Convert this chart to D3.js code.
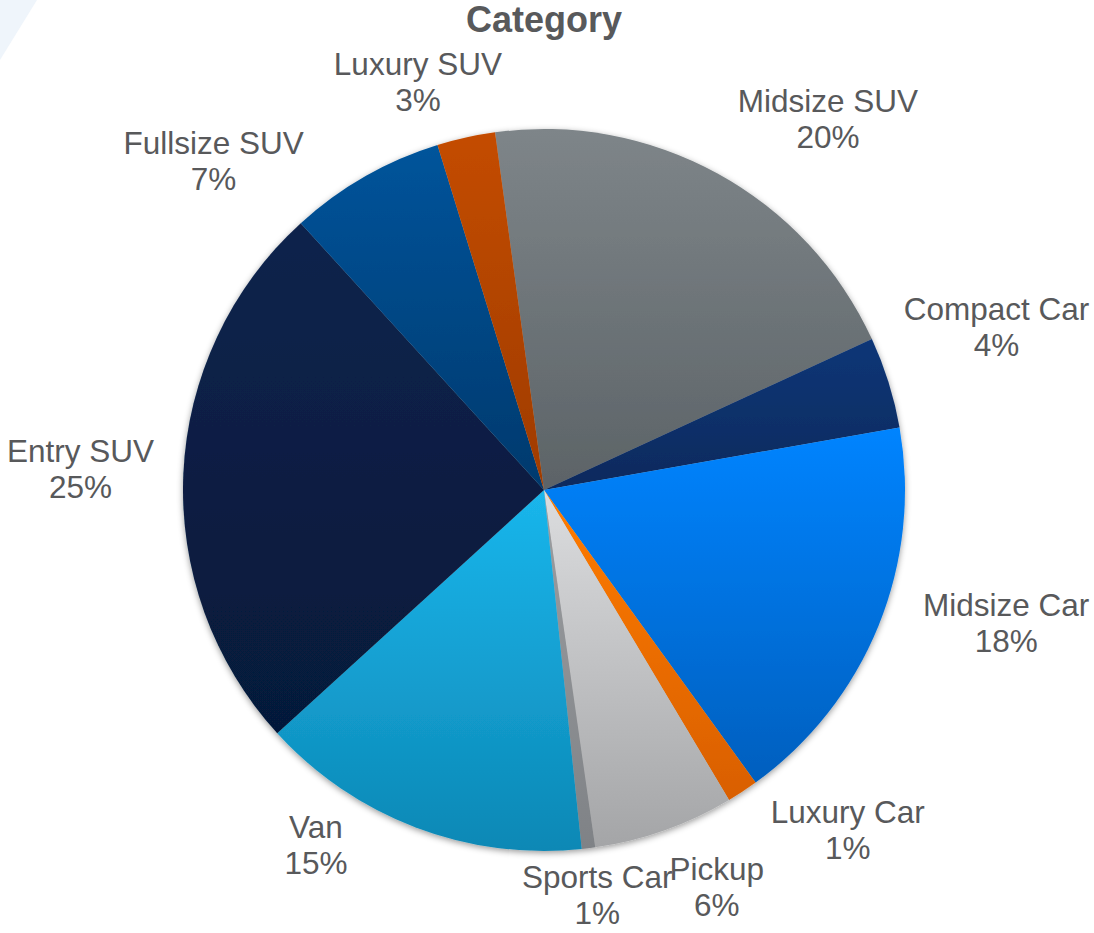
<!DOCTYPE html>
<html>
<head>
<meta charset="utf-8">
<script src="https://cdn.jsdelivr.net/npm/d3@7"></script>
<style>
  html, body { margin: 0; padding: 0; background: #ffffff; }
  svg { display: block; }
  text { font-family: "Liberation Sans", Arial, sans-serif; fill: #58595b; }
</style>
</head>
<body>
<svg id="chart" width="1094" height="933"></svg>
<script>
// Vehicle category mix (share of total, %)
const categories = ["Midsize SUV", "Compact Car", "Midsize Car", "Luxury Car", "Pickup",
                    "Sports Car", "Van", "Entry SUV", "Fullsize SUV", "Luxury SUV"];
const shares = [20.3, 4.1, 17.8, 1.4, 6.3, 0.6, 14.9, 25.0, 7.0, 2.6];

// Slice fills: top and bottom stops of each vertical gradient
const colorTop    = ["#7e8589", "#0e3677", "#0084ff", "#ff7c00", "#dcdddf",
                     "#9c9ea1", "#1ab6ec", "#0a234c", "#04549b", "#c44c00"];
const colorBottom = ["#5c6367", "#0a2a5d", "#005fbe", "#d95f00", "#a4a5a7",
                     "#7f8286", "#0d88b5", "#06193a", "#00396d", "#9e3b00"];

// Label placement relative to each slice: angle shift (deg) and gap beyond the rim (px)
const labelShift = [8.7, -2.5, -6.0, -8.4, -4.0, -0.4, 11.9, -0.1, -15.4, -4.7];
const labelGap   = [106, 120, 120, 95, 72, 47.5, 61, 103, 105, 66];

const W = 1094, H = 933;
const cx = 544, cy = 490, R = 361;
const deg = Math.PI / 180;
const startDeg = -7.8;

const svg = d3.select("#chart");
const defs = svg.append("defs");

// faint decorative corner shape
svg.append("path")
  .attr("d", d3.line()([[0, 0], [37, 0], [0, 60]]) + "Z")
  .attr("fill", "#eff5fb");

// soft shadow under the pie
const shadow = defs.append("filter").attr("id", "pieShadow")
  .attr("x", "-10%").attr("y", "-10%").attr("width", "120%").attr("height", "120%");
shadow.append("feDropShadow")
  .attr("dx", 0).attr("dy", 2).attr("stdDeviation", 3)
  .attr("flood-color", "#000").attr("flood-opacity", 0.4);

categories.forEach((c, i) => {
  const g = defs.append("linearGradient").attr("id", "grad" + i)
    .attr("x1", 0).attr("y1", 0).attr("x2", 0).attr("y2", 1);
  g.append("stop").attr("offset", "0%").attr("stop-color", colorTop[i]);
  g.append("stop").attr("offset", "100%").attr("stop-color", colorBottom[i]);
});

const data = categories.map((c, i) => ({ name: c, value: shares[i], i }));
const total = d3.sum(shares);

const pie = d3.pie()
  .sort(null)
  .value(d => d.value)
  .startAngle(startDeg * deg)
  .endAngle((startDeg + 360) * deg);

const arc = d3.arc().innerRadius(0).outerRadius(R);
const arcs = pie(data);

const pieG = svg.append("g")
  .attr("transform", `translate(${cx},${cy})`)
  .attr("filter", "url(#pieShadow)");

pieG.selectAll("path.slice")
  .data(arcs)
  .join("path")
  .attr("class", "slice")
  .attr("d", arc)
  .attr("fill", d => `url(#grad${d.data.i})`);

// Category labels with rounded percentages
const fmt = v => Math.round(v / total * 100) + "%";
const labelG = svg.append("g").attr("transform", `translate(${cx},${cy})`);

arcs.forEach(a => {
  const i = a.data.i;
  const mid = (a.startAngle + a.endAngle) / 2 + labelShift[i] * deg;
  const dist = R + labelGap[i];
  const lx = Math.sin(mid) * dist;
  const ly = -Math.cos(mid) * dist;
  const t = labelG.append("text")
    .attr("text-anchor", "middle")
    .attr("font-size", "31.5px");
  t.append("tspan").attr("x", lx).attr("y", ly - 7).text(a.data.name);
  t.append("tspan").attr("x", lx).attr("y", ly + 29).text(fmt(a.data.value));
});

// Title
svg.append("text")
  .attr("x", cx).attr("y", 32)
  .attr("text-anchor", "middle")
  .attr("font-size", "36px")
  .attr("font-weight", "bold")
  .text("Category");
</script>
</body>
</html>
